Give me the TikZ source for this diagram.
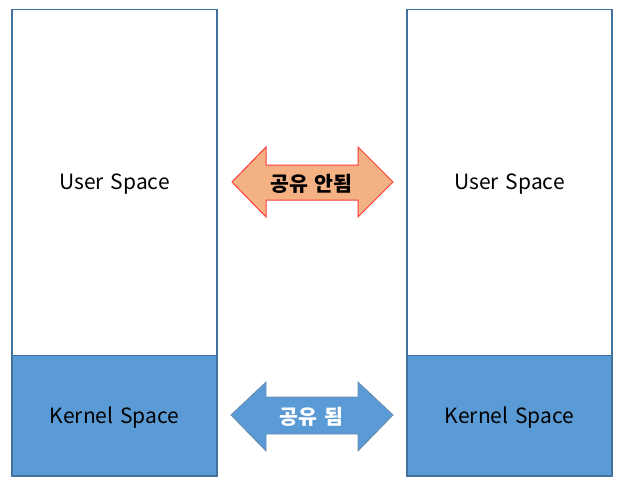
\documentclass[tikz,border=0pt]{standalone}
\usepackage{fontspec}
\setmainfont{Noto Sans CJK KR}
\definecolor{kfill}{HTML}{5B9BD5}
\definecolor{kedge}{HTML}{41719C}
\definecolor{afill}{HTML}{F4B183}
\definecolor{aedge}{HTML}{FF3B3B}
\begin{document}
\begin{tikzpicture}[x=1pt,y=-1pt,
  userbox/.style={draw=kedge,line width=1.2pt,fill=white},
  kernbox/.style={draw=kedge,line width=1.2pt,fill=kfill},
  lbl/.style={font=\fontsize{21}{24}\selectfont,text=black},
  alabel/.style={font=\fontsize{20.5}{24}\selectfont\bfseries}]
\useasboundingbox (0,0) rectangle (629,488);
% left column
\draw[userbox] (12,9.5) rectangle (217,355.5);
\draw[kernbox] (12,355.5) rectangle (217,476);
% right column
\draw[userbox] (407,9.5) rectangle (612,355.5);
\draw[kernbox] (407,355.5) rectangle (612,476);
\node[lbl] (u1) at (114.5,184.5) {User\hspace{0.1em} Space};
\node[lbl] (u2) at (509.5,184.5) {User\hspace{0.1em} Space};
\node[lbl] (k1) at (114.5,417.5) {Kernel\hspace{0.1em} Space};
\node[lbl] (k2) at (509.5,417.5) {Kernel\hspace{0.1em} Space};
% top arrow
\draw[fill=afill,draw=aedge,line width=1pt,line join=miter]
  (232,182) -- (266,147) -- (266,165) -- (358,165) -- (358,147) -- (393,182)
  -- (358,217) -- (358,200) -- (266,200) -- (266,217) -- cycle;
\node[alabel,text=black] (a1) at (311.5,184) {공유\hspace{0.1em} 안됨};
% bottom arrow
\draw[fill=kfill,draw=kedge!80,line width=0.8pt,line join=miter]
  (231,415) -- (266,382) -- (266,397) -- (358,397) -- (358,382) -- (393,415)
  -- (358,451) -- (358,434) -- (266,434) -- (266,451) -- cycle;
\node[alabel,text=white] (a2) at (311.5,416.5) {공유\hspace{0.1em} 됨};
\end{tikzpicture}
\end{document}
